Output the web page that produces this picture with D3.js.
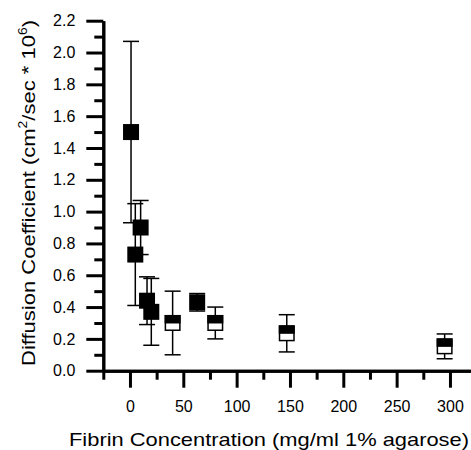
<!DOCTYPE html>
<html>
<head>
<meta charset="utf-8">
<script src="https://cdn.jsdelivr.net/npm/d3@7"></script>
<style>
  html, body { margin: 0; padding: 0; background: #fff; }
  svg { display: block; }
  text { font-family: Arial, "Liberation Sans", sans-serif; fill: #000; }
</style>
</head>
<body>
<div id="chart"></div>
<script>
// ---- data ----
const concentration = [1, 5, 10, 16, 20, 40, 63, 80, 147, 295];
const diffusion     = [1.50, 0.73, 0.90, 0.44, 0.37, 0.30, 0.43, 0.30, 0.235, 0.153];
const errors        = [0.57, 0.32, 0.17, 0.15, 0.21, 0.20, 0.055, 0.10, 0.117, 0.078];
const markerStyle   = ["filled", "filled", "filled", "filled", "filled", "half", "filled", "half", "half", "half"];
const xMajorTicks   = [0, 50, 100, 150, 200, 250, 300];
const xMinorTicks   = [-25, 25, 75, 125, 175, 225, 275];
const yMajorTicks   = [0, 0.2, 0.4, 0.6, 0.8, 1.0, 1.2, 1.4, 1.6, 1.8, 2.0, 2.2];
const yMinorTicks   = [0.1, 0.3, 0.5, 0.7, 0.9, 1.1, 1.3, 1.5, 1.7, 1.9, 2.1];
const xTitle = "Fibrin Concentration (mg/ml 1% agarose)";

const W = 471, H = 450;
const svg = d3.select("#chart").append("svg").attr("width", W).attr("height", H);

const x = d3.scaleLinear().domain([-25, 320]).range([103.3, 471.3]);
const y = d3.scaleLinear().domain([0, 2.2]).range([370.7, 20.7]);

const data = concentration.map((c, i) => ({ c, d: diffusion[i], e: errors[i], s: markerStyle[i] }));

// ---- axes ----
function styleAxis(g) {
  g.selectAll("path.domain").attr("stroke", "#000").attr("stroke-width", 3);
  g.selectAll(".tick line").attr("stroke", "#000").attr("stroke-width", 3);
}

// x minor
svg.append("g").attr("transform", `translate(0,${y(0)})`)
  .call(d3.axisBottom(x).tickValues(xMinorTicks).tickSize(9).tickSizeOuter(0).tickFormat(""))
  .call(styleAxis);
// x major
const gx = svg.append("g").attr("transform", `translate(0,${y(0)})`)
  .call(d3.axisBottom(x).tickValues(xMajorTicks).tickSize(17).tickSizeOuter(0).tickPadding(13))
  .call(styleAxis);
gx.selectAll(".tick text").attr("font-size", 16).attr("font-family", "Arial, 'Liberation Sans', sans-serif");

// y minor
svg.append("g").attr("transform", `translate(${x(-25)},0)`)
  .call(d3.axisLeft(y).tickValues(yMinorTicks).tickSize(9).tickSizeOuter(0).tickFormat(""))
  .call(styleAxis);
// y major
const gy = svg.append("g").attr("transform", `translate(${x(-25)},0)`)
  .call(d3.axisLeft(y).tickValues(yMajorTicks).tickSize(17).tickSizeOuter(0).tickPadding(11).tickFormat(d3.format(".1f")))
  .call(styleAxis);
gy.selectAll(".tick text").attr("font-size", 16).attr("font-family", "Arial, 'Liberation Sans', sans-serif");

// ---- error bars ----
const capW = 16, box = 16;
const eb = svg.append("g").attr("stroke", "#000").attr("stroke-width", 1.5);
data.forEach(p => {
  const cx = x(p.c), yt = y(p.d + p.e), yb = y(p.d - p.e);
  eb.append("line").attr("x1", cx).attr("x2", cx).attr("y1", yt).attr("y2", yb);
  eb.append("line").attr("x1", cx - capW / 2).attr("x2", cx + capW / 2).attr("y1", yt).attr("y2", yt);
  eb.append("line").attr("x1", cx - capW / 2).attr("x2", cx + capW / 2).attr("y1", yb).attr("y2", yb);
});

// ---- markers ----
const mk = svg.append("g");
data.forEach(p => {
  const cx = x(p.c), cy = y(p.d);
  if (p.s === "filled") {
    mk.append("rect").attr("x", cx - box / 2).attr("y", cy - box / 2)
      .attr("width", box).attr("height", box).attr("fill", "#000");
  } else {
    mk.append("rect").attr("x", cx - box / 2 + 0.75).attr("y", cy - box / 2 + 0.75)
      .attr("width", box - 1.5).attr("height", box - 1.5)
      .attr("fill", "#fff").attr("stroke", "#000").attr("stroke-width", 1.5);
    mk.append("rect").attr("x", cx - box / 2).attr("y", cy - box / 2)
      .attr("width", box).attr("height", box / 2 + 0.5).attr("fill", "#000");
  }
});

// ---- titles ----
svg.append("text")
  .attr("x", 269).attr("y", 446)
  .attr("text-anchor", "middle")
  .attr("font-size", 19)
  .attr("textLength", 400).attr("lengthAdjust", "spacingAndGlyphs")
  .text(xTitle);

const yt = svg.append("text")
  .attr("transform", "translate(35,193) rotate(-90)")
  .attr("text-anchor", "middle")
  .attr("font-size", 19)
  .attr("textLength", 346).attr("lengthAdjust", "spacingAndGlyphs");
yt.append("tspan").text("Diffusion Coefficient (cm");
yt.append("tspan").attr("font-size", 12).attr("dy", -8).text("2");
yt.append("tspan").attr("dy", 8).text("/sec * 10");
yt.append("tspan").attr("font-size", 12).attr("dy", -8).text("6");
yt.append("tspan").attr("dy", 8).text(")");
</script>
</body>
</html>
